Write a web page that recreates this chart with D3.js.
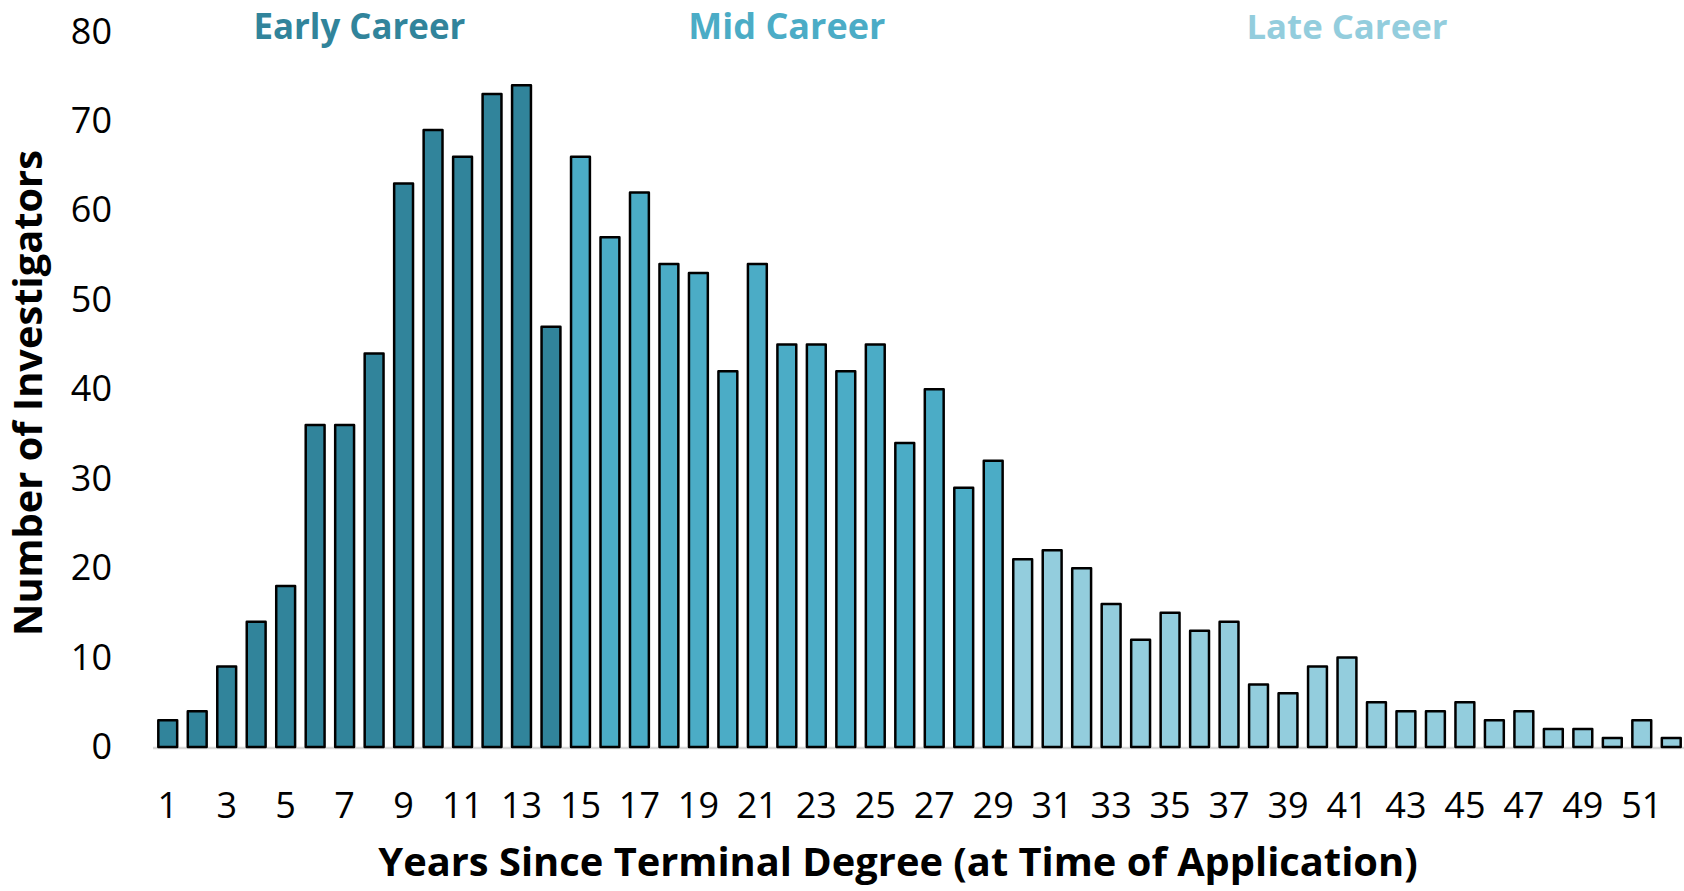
<!DOCTYPE html>
<html>
<head>
<meta charset="utf-8">
<script src="https://cdn.jsdelivr.net/npm/d3@7"></script>
<style>
  body { margin: 0; background: #fff; }
  svg { display: block; font-family: "Open Sans", "Noto Sans", sans-serif; }
</style>
</head>
<body>
<svg id="chart" width="1684" height="891"></svg>
<script>
// years since terminal degree, 1..52
var years = d3.range(1, 53);
// number of investigators per year
var counts = [3, 4, 9, 14, 18, 36, 36, 44, 63, 69, 66, 73, 74, 47, 66, 57, 62, 54, 53, 42,
              54, 45, 45, 42, 45, 34, 40, 29, 32, 21, 22, 20, 16, 12, 15, 13, 14, 7, 6, 9,
              10, 5, 4, 4, 5, 3, 4, 2, 2, 1, 3, 1];
// career stage groups: name, first year, last year
var stageNames = ["Early Career", "Mid Career", "Late Career"];
var stageStart = [1, 15, 30];
var stageEnd = [14, 29, 52];
var stageColors = ["#31849B", "#4BACC6", "#93CDDD"];
var yTicks = [0, 10, 20, 30, 40, 50, 60, 70, 80];
var xTicks = years.filter(function(d) { return d % 2 == 1; });

var svg = d3.select("#chart");

var x = d3.scaleBand().domain(years).range([153, 1686]).paddingInner(0.36).paddingOuter(0.18);
var y = d3.scaleLinear().domain([0, 80]).range([747, 31.5]);

//which stage a year belongs to
function stageOf(yr) {
    for (var i = 0; i < stageNames.length; i++) {
        if (yr >= stageStart[i] && yr <= stageEnd[i]) return i;
    }
    return 0;
}

//shrink or grow the font of a text element until it has the wanted width
function fitWidth(sel, width) {
    var fs = parseFloat(sel.attr("font-size"));
    var w = sel.node().getComputedTextLength();
    sel.attr("font-size", (fs * width / w).toFixed(2));
}

// baseline
svg.append("line")
    .attr("x1", 153).attr("x2", 1684)
    .attr("y1", y(0) + 1).attr("y2", y(0) + 1)
    .attr("stroke", "#d9d9d9").attr("stroke-width", 2.5);

svg.append("g").selectAll("rect")
    .data(years)
    .join("rect")
    .attr("x", function(d) { return x(d); })
    .attr("y", function(d, i) { return y(counts[i]); })
    .attr("width", x.bandwidth())
    .attr("height", function(d, i) { return y(0) - y(counts[i]); })
    .attr("fill", function(d) { return stageColors[stageOf(d)]; })
    .attr("stroke", "#000")
    .attr("stroke-width", 2.5)
    .attr("stroke-linejoin", "round");

// x axis
var xAxis = svg.append("g")
    .attr("transform", "translate(0," + y(0) + ")")
    .call(d3.axisBottom(x).tickValues(xTicks).tickSize(0).tickPadding(45))
    .attr("font-family", null).attr("font-size", null);
xAxis.select(".domain").remove();
xAxis.selectAll("text").attr("font-size", 36).attr("fill", "#000");

// y axis
var yAxis = svg.append("g")
    .attr("transform", "translate(122,0)")
    .call(d3.axisLeft(y).tickValues(yTicks).tickSize(0).tickPadding(10))
    .attr("font-family", null).attr("font-size", null);
yAxis.select(".domain").remove();
yAxis.selectAll("text").attr("font-size", 36).attr("fill", "#000");

// stage labels above the bars
for (var i = 0; i < stageNames.length; i++) {
    var cx = (x(stageStart[i]) + x(stageEnd[i]) + x.bandwidth()) / 2;
    var t = svg.append("text")
        .attr("x", cx).attr("y", 39)
        .attr("text-anchor", "middle")
        .attr("font-size", 32).attr("font-weight", "bold")
        .attr("fill", stageColors[i])
        .text(stageNames[i]);
    fitWidth(t, [212, 197, 201][i]);
}

// axis titles
var xt = svg.append("text")
    .attr("x", 898).attr("y", 876)
    .attr("text-anchor", "middle")
    .attr("font-size", 36).attr("font-weight", "bold")
    .text("Years Since Terminal Degree (at Time of Application)");
fitWidth(xt, 1040);

var yt = svg.append("text")
    .attr("transform", "translate(42,393) rotate(-90)")
    .attr("text-anchor", "middle")
    .attr("font-size", 36).attr("font-weight", "bold")
    .text("Number of Investigators");
fitWidth(yt, 486);
</script>
</body>
</html>
